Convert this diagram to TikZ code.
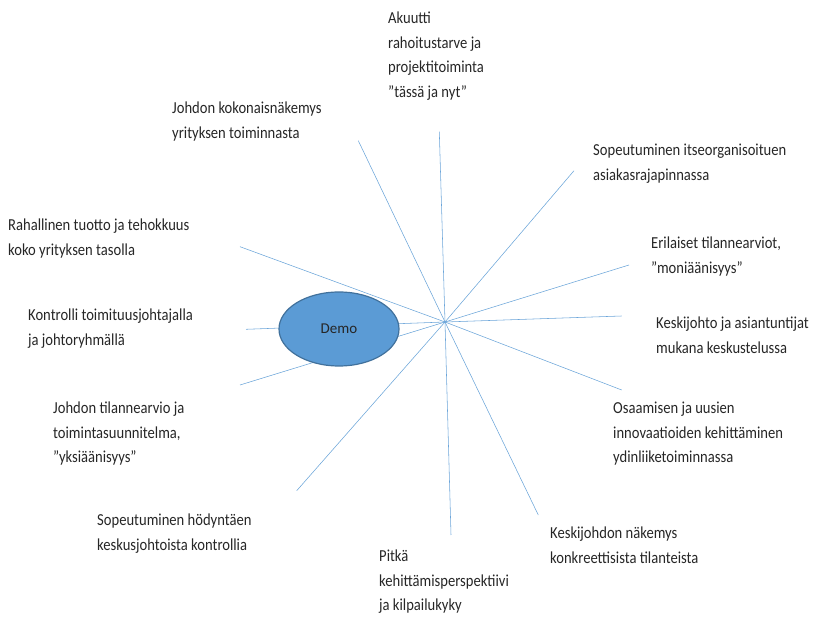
\documentclass[tikz,border=0pt]{standalone}
\usepackage{fontspec}
\setmainfont{Carlito}
\usetikzlibrary{shapes.geometric}
\definecolor{raycol}{RGB}{91,155,213}
\definecolor{demoedge}{RGB}{65,113,156}
\tikzset{%
    ray/.style={draw=raycol!90, line width=0.55pt},
    lab/.style={anchor=north west, align=left, inner sep=0pt, yscale=1.15, font=\fontsize{14.6}{21.3}\selectfont, text=black!85},
    demo/.style={ellipse, fill=raycol, draw=demoedge, line width=1.2pt, minimum width=120pt, minimum height=74pt, inner sep=0pt, font=\fontsize{15}{18}\selectfont, text=black!85},
}
\begin{document}
\begin{tikzpicture}[x=1pt,y=-1pt]
    \useasboundingbox (0,0) rectangle (831,617);
    \coordinate (hub) at (445,322);
    \coordinate (eakuutti) at (439.3,131.7);
    \coordinate (ekokon) at (358.3,140.7);
    \coordinate (esopeut) at (574,170.7);
    \coordinate (erahal) at (240,246.7);
    \coordinate (eerilai) at (629,265);
    \coordinate (ekontr) at (246,329.3);
    \coordinate (ekeskij) at (621.7,316);
    \coordinate (etilann) at (240,385);
    \coordinate (eosaam) at (621.7,390);
    \coordinate (ehodynt) at (296.7,490.7);
    \coordinate (ekeskin) at (538.3,515);
    \coordinate (epitka) at (451,535);
    \foreach \e in {eakuutti,ekokon,esopeut,erahal,eerilai,ekontr,ekeskij,etilann,eosaam,ehodynt,ekeskin,epitka}
        \draw [ray](hub) -- (\e);
    \node [demo] (demo) at (339,329) {Demo};
    \node [lab] (akuutti) at (388,12) {Akuutti\\rahoitustarve ja\\projektitoiminta\\”tässä ja nyt”};
    \node [lab] (kokon) at (172,102) {Johdon kokonaisnäkemys\\yrityksen toiminnasta};
    \node [lab] (sopeut) at (593,144) {Sopeutuminen itseorganisoituen\\asiakasrajapinnassa};
    \node [lab] (rahal) at (8,219) {Rahallinen tuotto ja tehokkuus\\koko yrityksen tasolla};
    \node [lab] (erilai) at (651,237) {Erilaiset tilannearviot,\\”moniäänisyys”};
    \node [lab] (kontr) at (28,309) {Kontrolli toimituusjohtajalla\\ja johtoryhmällä};
    \node [lab] (keskij) at (656,317) {Keskijohto ja asiantuntijat\\mukana keskustelussa};
    \node [lab] (tilann) at (53,402) {Johdon tilannearvio ja\\toimintasuunnitelma,\\”yksiäänisyys”};
    \node [lab] (osaam) at (613,402) {Osaamisen ja uusien\\innovaatioiden kehittäminen\\ydinliiketoiminnassa};
    \node [lab] (hodynt) at (97,514) {Sopeutuminen hödyntäen\\keskusjohtoista kontrollia};
    \node [lab] (keskin) at (550,527) {Keskijohdon näkemys\\konkreettisista tilanteista};
    \node [lab] (pitka) at (379,550) {Pitkä\\kehittämisperspektiivi\\ja kilpailukyky};
\end{tikzpicture}
\end{document}
